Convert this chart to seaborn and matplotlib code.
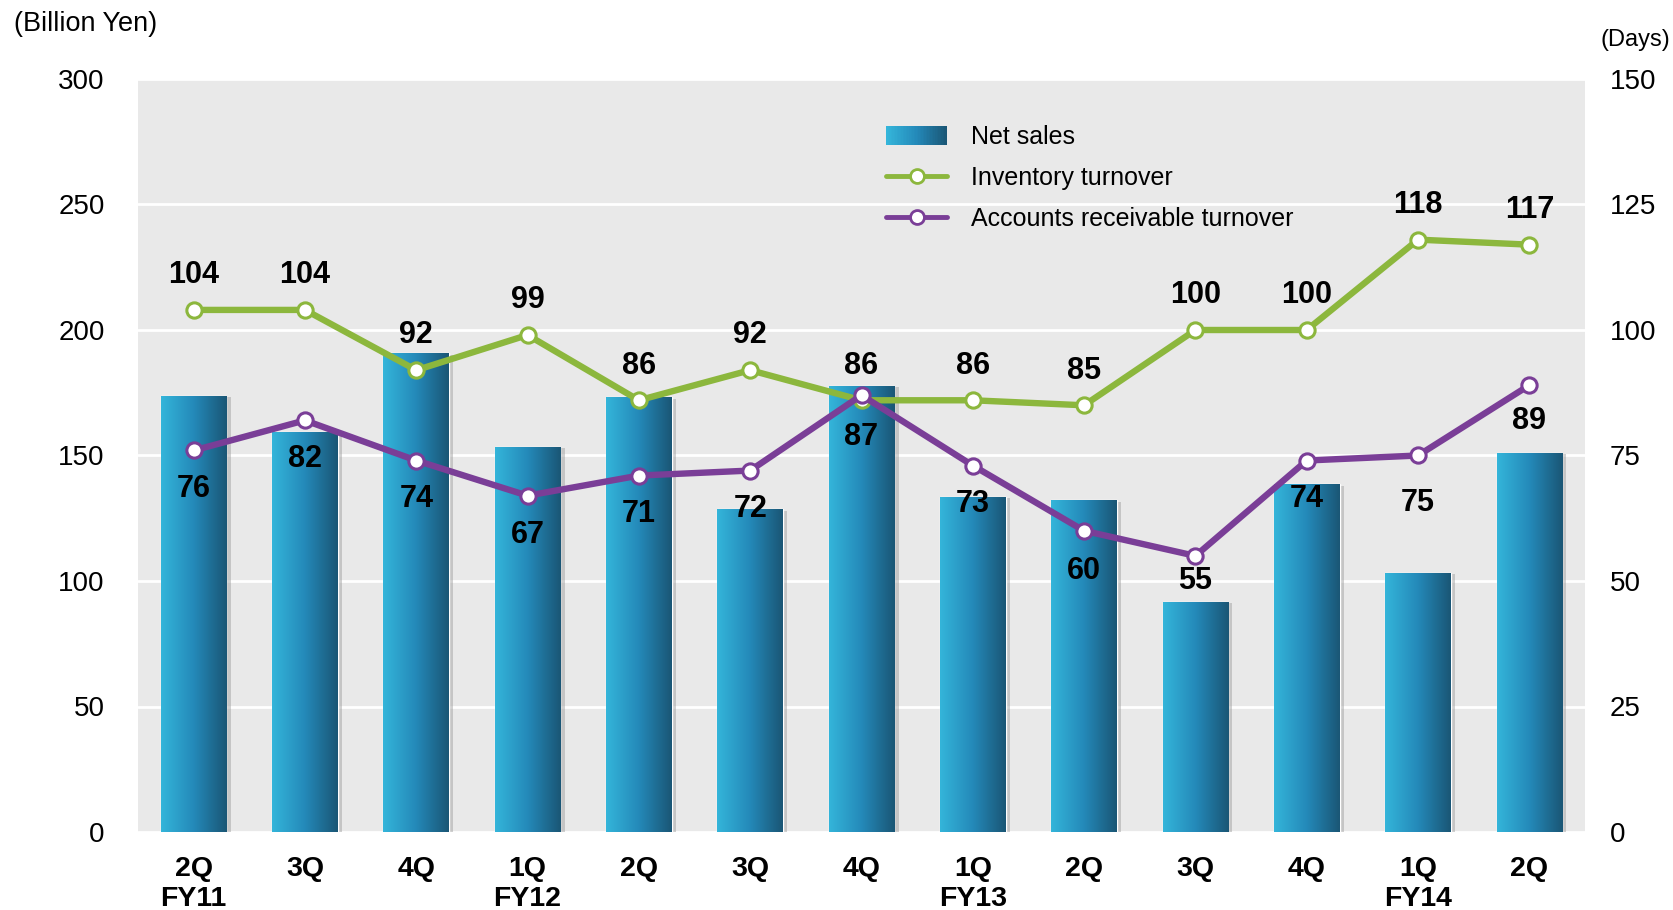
import numpy as np
import pandas as pd
import matplotlib
matplotlib.use("Agg")
import matplotlib.pyplot as plt
import seaborn as sns
from matplotlib.lines import Line2D
from matplotlib.patches import Rectangle, Patch
from matplotlib.legend_handler import HandlerBase
from matplotlib.colors import LinearSegmentedColormap
import matplotlib.patheffects as pe

# ---- data ----
quarters = ["2Q", "3Q", "4Q", "1Q", "2Q", "3Q", "4Q", "1Q", "2Q", "3Q", "4Q", "1Q", "2Q"]
fiscal_years = ["FY11", "", "", "FY12", "", "", "", "FY13", "", "", "", "FY14", ""]
net_sales = [173.8, 159.4, 190.7, 153.5, 173.2, 128.6, 177.8, 133.6, 132.2, 91.8, 138.6, 103.3, 151.1]
inventory_turnover = [104, 104, 92, 99, 86, 92, 86, 86, 85, 100, 100, 118, 117]
receivable_turnover = [76, 82, 74, 67, 71, 72, 87, 73, 60, 55, 74, 75, 89]
left_ticks = [0, 50, 100, 150, 200, 250, 300]
right_ticks = [0, 25, 50, 75, 100, 125, 150]
# label offsets (points) for receivable values (below the point)
recv_offsets = [-28, -28, -28, -28, -28, -28, -30, -28, -29, -18, -28, -34, -26]

GREEN = "#8cb73d"
PURPLE = "#7a3e97"
BG = "#e9e9e9"
grad_cmap = LinearSegmentedColormap.from_list(
    "bar", [(0, "#34b5da"), (0.5, "#2489b9"), (1, "#1a5675")])

sns.set_theme(style="white")
plt.rcParams["font.family"] = ["Liberation Sans", "DejaVu Sans"]
plt.rcParams["text.color"] = "black"
plt.rcParams["xtick.color"] = "black"
plt.rcParams["ytick.color"] = "black"

fig = plt.figure(figsize=(16.73, 9.10), dpi=100)
ax = fig.add_axes([138 / 1673, 78 / 910, (1585 - 138) / 1673, (832 - 79) / 910])
ax.set_facecolor(BG)

x = list(range(len(quarters)))
df = pd.DataFrame({"x": x, "sales": net_sales,
                   "inv": inventory_turnover, "recv": receivable_turnover})

sns.barplot(data=df, x="x", y="sales", ax=ax, color="#1a5675", width=0.59,
            saturation=1, zorder=2)

ax.set_ylim(0, 300)
ax.set_xlim(-0.5, len(x) - 0.5)
ax.set_yticks(left_ticks)
ax.grid(axis="y", color="white", linewidth=2, zorder=0)
ax.set_axisbelow(True)

grad = np.linspace(0, 1, 256).reshape(1, -1)
for p in ax.patches:
    p.set_path_effects([pe.SimplePatchShadow(offset=(3, -1), shadow_rgbFace="#9a9a9a", alpha=0.45),
                        pe.Normal()])
    x0, w, h = p.get_x(), p.get_width(), p.get_height()
    im = ax.imshow(grad, cmap=grad_cmap, extent=[x0, x0 + w, 0, h],
                   aspect="auto", zorder=3, interpolation="bicubic")
    im.set_clip_path(p)
ax.set_ylim(0, 300)
ax.set_xlim(-0.5, len(x) - 0.5)

for s in ax.spines.values():
    s.set_visible(False)

ax.set_xticks(x)
ax.set_xticklabels([q + ("\n" + f if f else "") for q, f in zip(quarters, fiscal_years)],
                   fontsize=20.5, fontweight="bold", va="top", linespacing=1.2,
                   family=["Liberation Sans Narrow", "Liberation Sans", "DejaVu Sans"])
ax.tick_params(axis="x", length=0, pad=17)
ax.tick_params(axis="y", length=0, pad=24, labelsize=20)
ax.set_xlabel("")
ax.set_ylabel("")

ax2 = ax.twinx()
sns.lineplot(data=df, x="x", y="inv", ax=ax2, color=GREEN, linewidth=4.6,
             marker="o", markersize=11, markerfacecolor="white",
             markeredgecolor=GREEN, markeredgewidth=2.2, zorder=5)
sns.lineplot(data=df, x="x", y="recv", ax=ax2, color=PURPLE, linewidth=4.6,
             marker="o", markersize=11, markerfacecolor="white",
             markeredgecolor=PURPLE, markeredgewidth=2.2, zorder=5)
ax2.set_ylim(0, 150)
ax2.set_yticks(right_ticks)
ax2.set_xlim(-0.5, len(x) - 0.5)
ax2.tick_params(axis="y", length=0, pad=18, labelsize=20)
ax2.set_ylabel("")
ax2.grid(False)
for s in ax2.spines.values():
    s.set_visible(False)

for i, v in enumerate(inventory_turnover):
    ax2.annotate(str(v), (i, v), xytext=(0, 25), textcoords="offset points",
                 ha="center", va="center", fontsize=22, fontweight="bold", zorder=6)
for i, v in enumerate(receivable_turnover):
    ax2.annotate(str(v), (i, v), xytext=(0, recv_offsets[i]), textcoords="offset points",
                 ha="center", va="center", fontsize=22, fontweight="bold", zorder=6)

fig.text(14 / 1673, 1 - 24 / 910, "(Billion Yen)", fontsize=19.5, ha="left", va="center")
fig.text(1601 / 1673, 1 - 40 / 910, "(Days)", fontsize=17, ha="left", va="center")


class HandlerGrad(HandlerBase):
    def create_artists(self, legend, orig_handle, xdescent, ydescent,
                       width, height, fontsize, trans):
        n = 40
        arts = []
        for k in range(n):
            r = Rectangle((-xdescent + width * k / n, -ydescent), width / n * 1.05, height,
                          facecolor=grad_cmap(k / (n - 1)), edgecolor="none",
                          transform=trans)
            arts.append(r)
        return arts


handles = [
    Patch(label="Net sales"),
    Line2D([], [], color=GREEN, lw=3.5, marker="o", ms=10, mfc="white", mec=GREEN, mew=2),
    Line2D([], [], color=PURPLE, lw=3.5, marker="o", ms=10, mfc="white", mec=PURPLE, mew=2),
]
labels = ["Net sales", "Inventory turnover", "Accounts receivable turnover"]
leg = ax2.legend(handles, labels, loc="upper left",
                 bbox_to_anchor=(886 / 1673, 1 - 125 / 910), bbox_transform=fig.transFigure,
                 frameon=False, fontsize=18, handlelength=2.45, handleheight=0.8,
                 handletextpad=0.95, labelspacing=0.68, borderpad=0, borderaxespad=0,
                 handler_map={Patch: HandlerGrad()})

fig.savefig("out.png", dpi=100)
